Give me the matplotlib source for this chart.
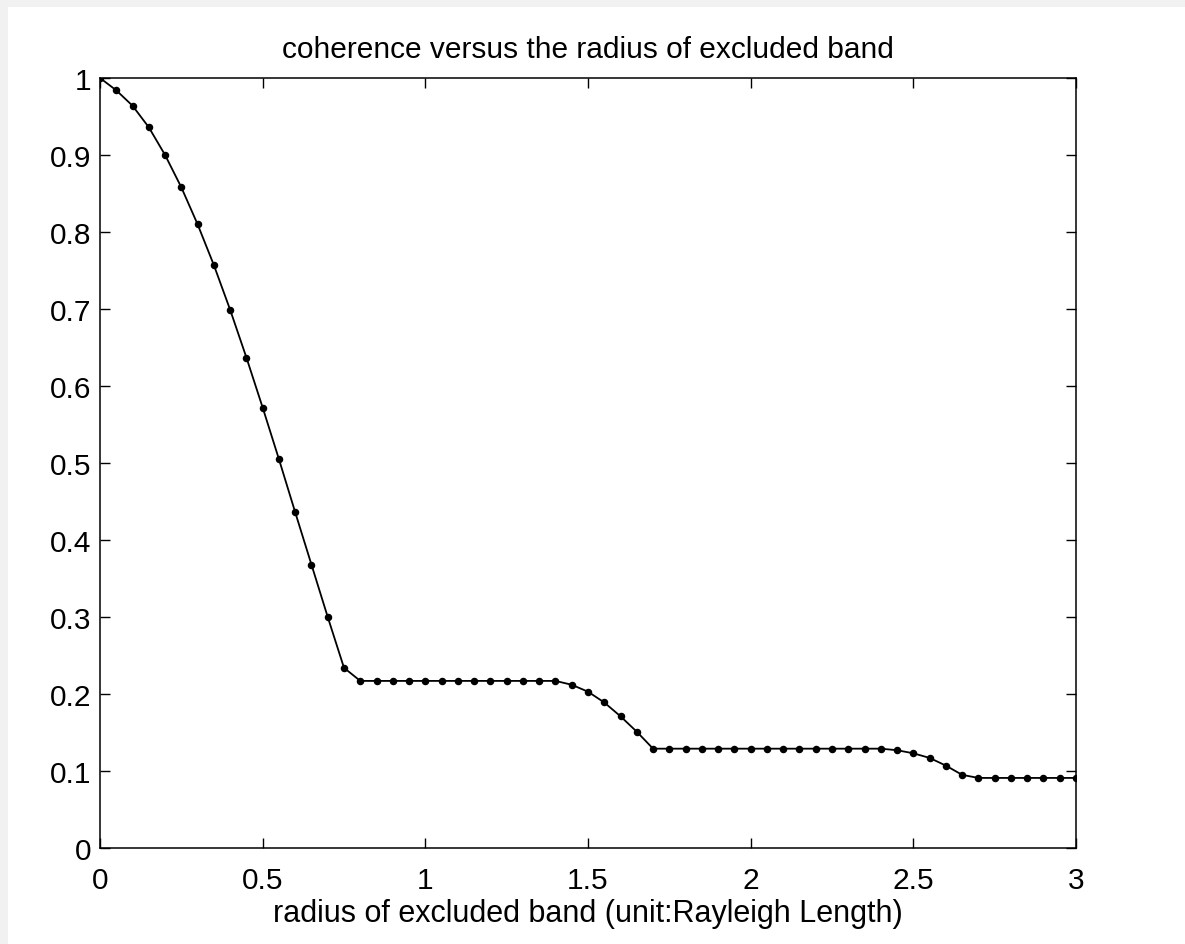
import matplotlib
matplotlib.use("Agg")
import matplotlib.pyplot as plt
from matplotlib.patches import Rectangle

plt.rcParams['font.family'] = ['Liberation Sans', 'DejaVu Sans']

radius = [0.00, 0.05, 0.10, 0.15, 0.20, 0.25, 0.30, 0.35, 0.40, 0.45,
          0.50, 0.55, 0.60, 0.65, 0.70, 0.75, 0.80, 0.85, 0.90, 0.95,
          1.00, 1.05, 1.10, 1.15, 1.20, 1.25, 1.30, 1.35, 1.40, 1.45,
          1.50, 1.55, 1.60, 1.65, 1.70, 1.75, 1.80, 1.85, 1.90, 1.95,
          2.00, 2.05, 2.10, 2.15, 2.20, 2.25, 2.30, 2.35, 2.40, 2.45,
          2.50, 2.55, 2.60, 2.65, 2.70, 2.75, 2.80, 2.85, 2.90, 2.95,
          3.00]
coherence = [1.000, 0.984, 0.964, 0.936, 0.900, 0.858, 0.810, 0.757, 0.699, 0.637,
             0.572, 0.505, 0.436, 0.368, 0.300, 0.234, 0.217, 0.217, 0.217, 0.217,
             0.217, 0.217, 0.217, 0.217, 0.217, 0.217, 0.217, 0.217, 0.217, 0.212,
             0.203, 0.189, 0.171, 0.151, 0.129, 0.129, 0.129, 0.129, 0.129, 0.129,
             0.129, 0.129, 0.129, 0.129, 0.129, 0.129, 0.129, 0.129, 0.129, 0.127,
             0.123, 0.117, 0.107, 0.095, 0.091, 0.091, 0.091, 0.091, 0.091, 0.091,
             0.091]

xticks = [0, 0.5, 1, 1.5, 2, 2.5, 3]
xticklabels = ['0', '0.5', '1', '1.5', '2', '2.5', '3']
yticks = [0, 0.1, 0.2, 0.3, 0.4, 0.5, 0.6, 0.7, 0.8, 0.9, 1]
yticklabels = ['0', '0.1', '0.2', '0.3', '0.4', '0.5', '0.6', '0.7', '0.8', '0.9', '1']

W, H = 1185, 945
fig = plt.figure(figsize=(W / 100, H / 100), dpi=100)
fig.patch.set_facecolor('white')
# light gray strip along top and left edges
fig.patches.append(Rectangle((0, 1 - 8 / H), 1, 8 / H, transform=fig.transFigure,
                             facecolor='#f1f1f1', edgecolor='none', zorder=0))
fig.patches.append(Rectangle((0, 0), 8 / W, 1, transform=fig.transFigure,
                             facecolor='#f1f1f1', edgecolor='none', zorder=0))

left, right, top, bottom = 100 / W, 1076 / W, 1 - 79 / H, 1 - 849 / H
ax = fig.add_axes([left, bottom, right - left, top - bottom])

ax.plot(radius, coherence, color='black', linewidth=1.3, marker='o',
        markersize=4.4, markerfacecolor='black', markeredgecolor='black')

ax.set_xlim(0, 3)
ax.set_ylim(0, 1)
ax.set_xticks(xticks)
ax.set_xticklabels(xticklabels)
ax.set_yticks(yticks)
ax.set_yticklabels(yticklabels)
ax.tick_params(direction='in', length=7.2, width=1.0, top=True, right=True,
               labelsize=21.5, colors='black')
ax.tick_params(axis='x', pad=13)
ax.tick_params(axis='y', pad=6)
for s in ax.spines.values():
    s.set_linewidth(1.1)
    s.set_color('black')

ax.set_title('coherence versus the radius of excluded band', fontsize=21.5, pad=15)
ax.set_xlabel('radius of excluded band (unit:Rayleigh Length)', fontsize=22, labelpad=2.5)

fig.savefig('out.png', dpi=100)
